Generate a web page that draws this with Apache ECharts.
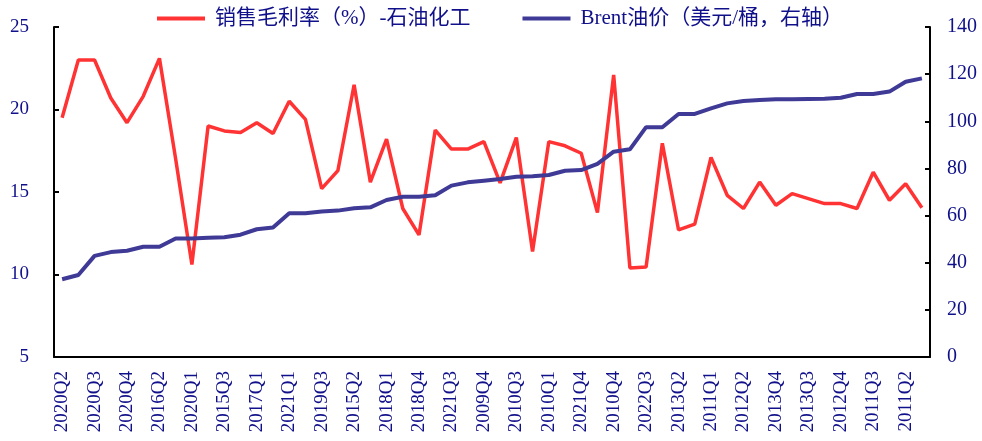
<!DOCTYPE html>
<html>
<head>
<meta charset="utf-8">
<script src="https://cdn.jsdelivr.net/npm/echarts@6/dist/echarts.min.js"></script>
<style>
html,body{margin:0;padding:0;background:#fff;}
#chart{width:982px;height:441px;}
</style>
</head>
<body>
<div id="chart"></div>
<script>
var categories = [
  '2020Q2','2016Q1','2020Q3','2015Q4','2020Q4','2009Q1','2016Q2','2016Q3','2020Q1','2016Q4',
  '2015Q3','2017Q2','2017Q1','2015Q1','2021Q1','2017Q3','2019Q3','2017Q4','2015Q2','2019Q4',
  '2018Q1','2019Q1','2018Q4','2009Q3','2021Q3','2021Q2','2009Q4','2018Q2','2010Q3','2018Q3',
  '2010Q1','2010Q2','2021Q4','2014Q4','2010Q4','2019Q2','2022Q3','2022Q1','2013Q2','2014Q3',
  '2011Q1','2014Q1','2012Q2','2013Q1','2013Q4','2014Q2','2013Q3','2012Q3','2012Q4','2011Q4',
  '2011Q3','2022Q2','2011Q2','2012Q1'
];
var grossMargin = [
  19.5, 23.0, 23.0, 20.7, 19.2, 20.8, 23.1, 17.0, 10.6, 19.0,
  18.7, 18.6, 19.2, 18.55, 20.5, 19.4, 15.2, 16.3, 21.5, 15.6,
  18.2, 14.0, 12.4, 18.75, 17.6, 17.6, 18.05, 15.55, 18.3, 11.4,
  18.05, 17.8, 17.35, 13.75, 22.1, 10.4, 10.45, 17.95, 12.7, 13.05,
  17.1, 14.8, 14.0, 15.6, 14.2, 14.9, 14.6, 14.3, 14.3, 14.0,
  16.2, 14.5, 15.5, 14.05
];
var brent = [
  33.0, 34.8, 42.9, 44.5, 45.1, 46.8, 46.8, 50.3, 50.3, 50.6,
  50.8, 51.9, 54.2, 54.9, 61.0, 61.0, 61.7, 62.1, 63.1, 63.5,
  66.6, 68.0, 68.0, 68.6, 72.7, 74.1, 74.8, 75.5, 76.5, 76.7,
  77.2, 79.0, 79.3, 81.9, 87.1, 88.1, 97.5, 97.5, 103.1, 103.1,
  105.5, 107.6, 108.6, 109.0, 109.3, 109.3, 109.5, 109.6, 110.0, 111.6,
  111.6, 112.6, 116.8, 118.2
];
var seriesNames = ['销售毛利率（%）-石油化工', 'Brent油价（美元/桶，右轴）'];

var FONT = "'Liberation Serif', 'Times New Roman', 'Noto Sans CJK SC', serif";
var TXT = '#10108a';

var chart = echarts.init(document.getElementById('chart'), null, {renderer: 'canvas'});
chart.setOption({
  animation: false,
  backgroundColor: '#ffffff',
  grid: {left: 54, right: 52, top: 27, bottom: 84, containLabel: false},
  legend: {
    left: 157, top: 8, padding: 0,
    itemWidth: 48, itemHeight: 4, itemGap: 52,
    icon: 'rect',
    textStyle: {fontFamily: FONT, fontSize: 21, color: TXT, padding: [0, 0, 0, 5]},
    data: seriesNames
  },
  xAxis: {
    type: 'category',
    data: categories,
    boundaryGap: true,
    axisLine: {lineStyle: {color: '#000', width: 2}},
    axisTick: {inside: true, length: 5, interval: 0, lineStyle: {color: '#000', width: 2}},
    axisLabel: {interval: 1, rotate: 90, margin: 14, fontFamily: FONT, fontSize: 19, color: TXT},
    splitLine: {show: false}
  },
  yAxis: [
    {
      type: 'value', min: 5, max: 25, interval: 5, position: 'left',
      axisLine: {show: true, lineStyle: {color: '#000', width: 2}},
      axisTick: {show: true, inside: true, length: 5, lineStyle: {color: '#000', width: 2}},
      axisLabel: {margin: 25, fontFamily: FONT, fontSize: 19, color: TXT},
      splitLine: {show: false}
    },
    {
      type: 'value', min: 0, max: 140, interval: 20, position: 'right',
      axisLine: {show: true, lineStyle: {color: '#000', width: 2}},
      axisTick: {show: true, inside: true, length: 5, lineStyle: {color: '#000', width: 2}},
      axisLabel: {margin: 17, fontFamily: FONT, fontSize: 20, color: TXT},
      splitLine: {show: false}
    }
  ],
  series: [
    {
      name: seriesNames[0], type: 'line', yAxisIndex: 0, data: grossMargin,
      symbol: 'none', lineStyle: {color: '#ff3333', width: 3.5}, itemStyle: {color: '#ff3333'}
    },
    {
      name: seriesNames[1], type: 'line', yAxisIndex: 1, data: brent,
      symbol: 'none', lineStyle: {color: '#3f3a96', width: 4}, itemStyle: {color: '#3f3a96'}
    }
  ]
});
</script>
</body>
</html>
